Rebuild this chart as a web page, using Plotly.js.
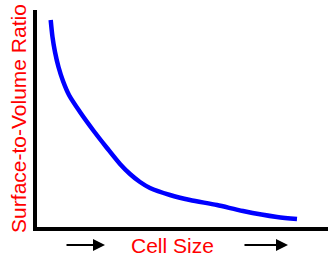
<!DOCTYPE html>
<html><head><meta charset="utf-8">
<script src="https://cdn.plot.ly/plotly-3.0.1.min.js"></script>
<style>html,body{margin:0;padding:0;background:#fff}#chart{width:335px;height:259px}</style>
</head><body><div id="chart"></div>
<script>
// Cell size (arbitrary units) vs surface-to-volume ratio (arbitrary units)
const cellSize = [13.7, 15.5, 18, 21.5, 26, 32, 43, 56, 70, 83, 93, 103, 113, 133, 153, 180, 206, 240, 260];
const surfaceToVolume = [207, 190, 175, 160, 146, 132, 115, 97, 79, 63, 53, 45, 39, 32, 27, 22, 16, 10, 8];
const xTitle = "Cell Size";
const yTitle = "Surface-to-Volume Ratio";

const red = "#ff0000";
const font = "Arial, 'Liberation Sans', sans-serif";

Plotly.newPlot("chart", [{
  x: cellSize, y: surfaceToVolume, type: "scatter", mode: "lines",
  line: {color: "#0000ff", width: 4.5, shape: "spline", smoothing: 0.8},
  hoverinfo: "skip"
}], {
  width: 335, height: 259,
  margin: {l: 37, r: 7, t: 10, b: 32},
  paper_bgcolor: "#fff", plot_bgcolor: "#fff",
  showlegend: false,
  xaxis: {range: [0, 291], showgrid: false, zeroline: false, showticklabels: false, ticks: "",
          showline: true, linecolor: "#000", linewidth: 4},
  yaxis: {range: [0, 217], showgrid: false, zeroline: false, showticklabels: false, ticks: "",
          showline: true, linecolor: "#000", linewidth: 4,
          title: {text: yTitle, font: {family: font, size: 21, color: red}, standoff: 2}},
  annotations: [
    {xref: "paper", yref: "paper", x: 0.465, y: -0.083, yanchor: "middle", xanchor: "center", showarrow: false,
     text: xTitle, font: {family: font, size: 21, color: red}},
    {xref: "paper", yref: "paper", axref: "pixel", ayref: "pixel", x: 0.2337, y: -0.083, ax: -40, ay: 0,
     showarrow: true, arrowhead: 2, arrowsize: 1.2, arrowwidth: 2, arrowcolor: "#000", text: ""},
    {xref: "paper", yref: "paper", axref: "pixel", ayref: "pixel", x: 0.8625, y: -0.083, ax: -45, ay: 0,
     showarrow: true, arrowhead: 2, arrowsize: 1.2, arrowwidth: 2, arrowcolor: "#000", text: ""}
  ]
}, {staticPlot: true, displayModeBar: false});
</script></body></html>
